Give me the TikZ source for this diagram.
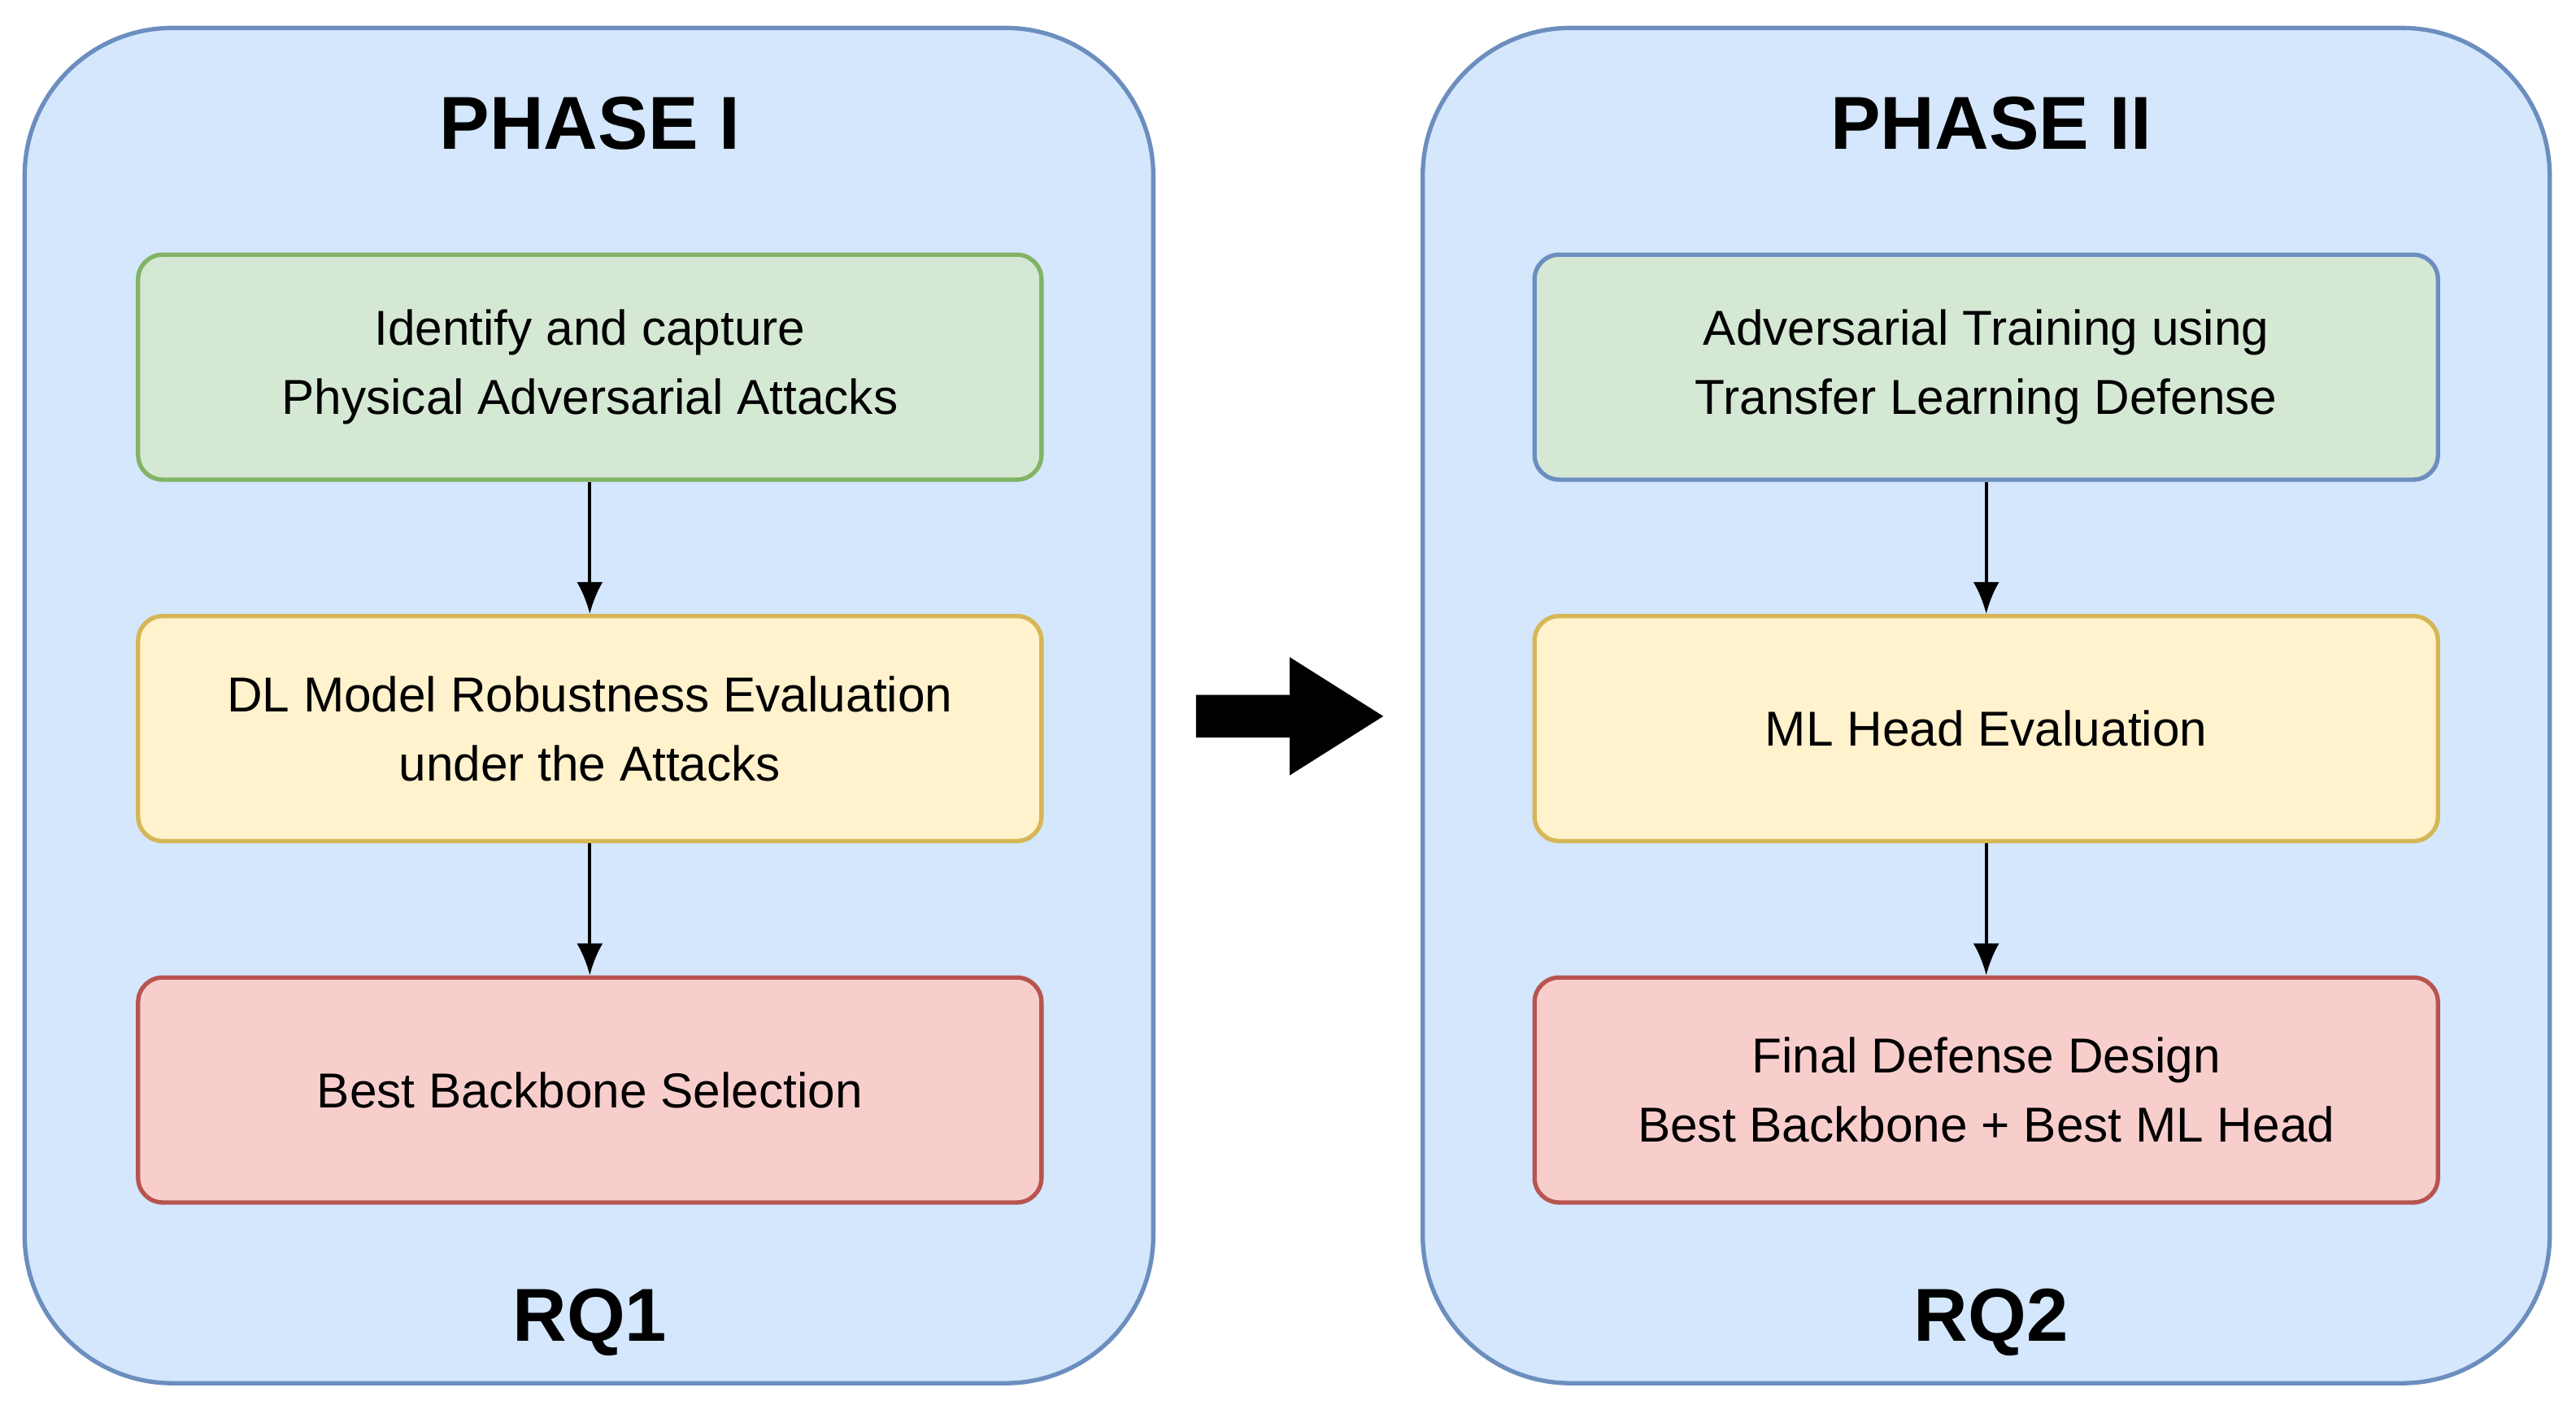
\documentclass[tikz,border=0pt]{standalone}
\usepackage{fontspec}
\setmainfont{Liberation Sans}
\definecolor{oFill}{HTML}{D4E7FC}\definecolor{oDraw}{HTML}{6C8EBF}
\definecolor{gFill}{HTML}{D5E8D4}\definecolor{gDraw}{HTML}{82B366}
\definecolor{yFill}{HTML}{FFF2CC}\definecolor{yDraw}{HTML}{D6B656}
\definecolor{rFill}{HTML}{F8CECC}\definecolor{rDraw}{HTML}{B85450}
\begin{document}
\begin{tikzpicture}[x=0.02cm,y=-0.02cm,
 outer/.style={draw=oDraw,fill=oFill,line width=1.5pt,rounded corners=1.8cm},
 box/.style={draw=#1Draw,fill=#1Fill,line width=1.5pt,rounded corners=0.3cm,minimum width=11cm,minimum height=2.74cm,align=center,font=\fontsize{17}{24}\selectfont},
 ttl/.style={font=\fontsize{26}{30}\selectfont\bfseries},
 arr/.style={-{Latex[length=11pt,width=9pt]},line width=1.2pt}]
\usetikzlibrary{arrows.meta}
\useasboundingbox (0,0) rectangle (1568,855);
\draw[outer] (15,17) rectangle (702,842);
\draw[outer] (866,17) rectangle (1552,842);
\node[ttl] (t1) at (359,75) {PHASE I};
\node[ttl] (t2) at (1212,75) {PHASE II};
\node[ttl] (r1) at (359,805) {RQ1};
\node[ttl] (r2) at (1212,805) {RQ2};
\node[box=g] (a1) at (359,223.5) {Identify and capture\\Physical Adversarial Attacks};
\node[box=y] (a2) at (359,443.5) {DL Model Robustness Evaluation\\under the Attacks};
\node[box=r] (a3) at (359,663.5) {Best Backbone Selection};
\node[box=g,draw=oDraw] (b1) at (1209,223.5) {Adversarial Training using\\Transfer Learning Defense};
\node[box=y] (b2) at (1209,443.5) {ML Head Evaluation};
\node[box=r] (b3) at (1209,663.5) {Final Defense Design\\Best Backbone + Best ML Head};
\draw[arr] (a1) -- (a2); \draw[arr] (a2) -- (a3);
\draw[arr] (b1) -- (b2); \draw[arr] (b2) -- (b3);
\fill (728,423) -- (785,423) -- (785,400) -- (842,436) -- (785,472) -- (785,449) -- (728,449) -- cycle;
\end{tikzpicture}
\end{document}
